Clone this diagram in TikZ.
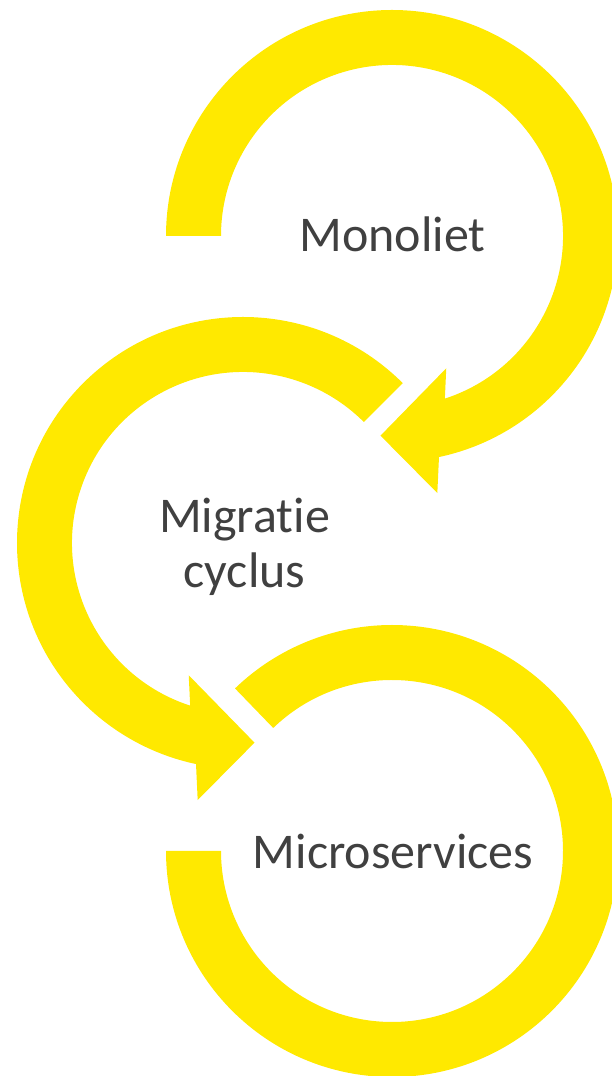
\documentclass[tikz,border=0pt]{standalone}
\usepackage{fontspec}
\setmainfont{Carlito}[Ligatures=NoCommon]
\usetikzlibrary{calc}
\definecolor{arrowyellow}{RGB}{255,233,0}
\definecolor{labelgray}{RGB}{64,64,64}
\begin{document}
\begin{tikzpicture}[x=1pt,y=1pt,
  arrowfill/.style={fill=arrowyellow, draw=none},
  lbl/.style={text=labelgray, font=\fontsize{50}{55}\selectfont, inner sep=0pt, anchor=base, align=center}]
\useasboundingbox (0,0) rectangle (612,1076);
\clip (0,0) rectangle (612,1076);
\coordinate (C1) at (392,840);
\coordinate (C2) at (243,533);
\coordinate (C3) at (392,225);
% arrow 1 (Monoliet)
\fill[arrowfill] ($(C1)+(180:226pt)$) arc[start angle=180, end angle=-78, radius=226pt]
  -- ($(C1)+(-80:261pt)$) -- ($(C1)+(-93.3:200pt)$) -- ($(C1)+(-67.7:143pt)$) -- ($(C1)+(-72:171pt)$)
  arc[start angle=-72, end angle=180, radius=171pt] -- cycle;
% arrow 2 (Migratie cyclus)
\fill[arrowfill] ($(C2)+(45:226pt)$) arc[start angle=45, end angle=258, radius=226pt]
  -- ($(C2)+(260:261pt)$) -- ($(C2)+(273.3:200pt)$) -- ($(C2)+(247.7:143pt)$) -- ($(C2)+(252:171pt)$)
  arc[start angle=252, end angle=45, radius=171pt] -- cycle;
% arrow 3 (Microservices)
\fill[arrowfill] ($(C3)+(180:226pt)$) arc[start angle=180, end angle=494, radius=226pt]
  -- ($(C3)+(494:171pt)$) arc[start angle=494, end angle=180, radius=171pt] -- cycle;
% labels
\node[lbl] (monoliet) at (392.5,824) {Monoliet};
\node[lbl] (migratie) at (244.5,488) {Migratie\\cyclus};
\node[lbl] (micro) at (393,207) {Microservices};
\end{tikzpicture}
\end{document}
